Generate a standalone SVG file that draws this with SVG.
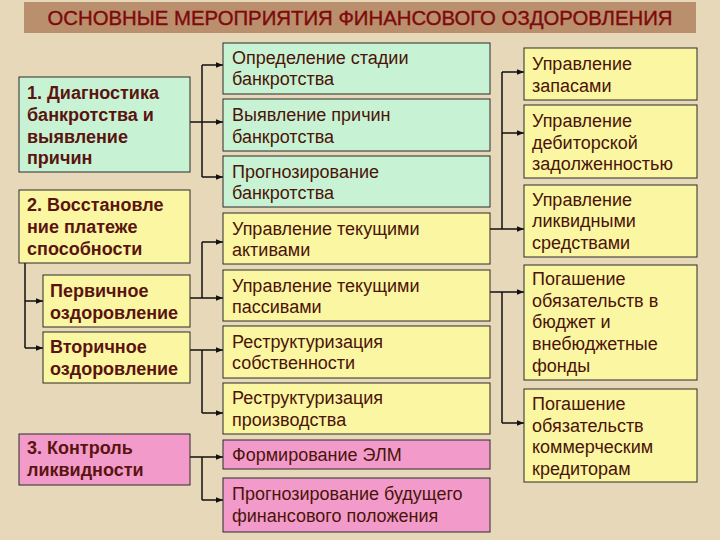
<svg xmlns="http://www.w3.org/2000/svg" width="720" height="540" viewBox="0 0 720 540">
<style>
.g{fill:#C8F2D4;stroke:#2a2a2a;stroke-width:1}
.y{fill:#FBF6A2;stroke:#2a2a2a;stroke-width:1}
.p{fill:#F29BCB;stroke:#2a2a2a;stroke-width:1}
.tb{font-family:"Liberation Sans",Arial,sans-serif;font-size:18px;font-weight:bold;fill:#5A1410}
.t{font-family:"Liberation Sans",Arial,sans-serif;font-size:18px;fill:#4A1408}
.c{fill:none;stroke:#111;stroke-width:1.5}
.a{fill:none;stroke:#111;stroke-width:1.5;marker-end:url(#ah)}
</style>
<defs>
<marker id="ah" viewBox="0 0 10 10" refX="10" refY="5" markerWidth="7" markerHeight="7" markerUnits="userSpaceOnUse" orient="auto">
<path d="M0,1 L10,5 L0,9 z" fill="#111"/>
</marker>
</defs>
<rect width="720" height="540" fill="#E7D8B9"/>
<g id="title">
<rect x="24" y="2" width="672" height="31" fill="#BA8F6E"/>
<text x="360" y="25" text-anchor="middle" font-family="'Liberation Sans',Arial,sans-serif" font-size="21" fill="#7E0A0A" stroke="#7E0A0A" stroke-width="0.4" textLength="625" lengthAdjust="spacingAndGlyphs">ОСНОВНЫЕ МЕРОПРИЯТИЯ ФИНАНСОВОГО ОЗДОРОВЛЕНИЯ</text>
</g>
<g id="connectors">
<polyline class="c" points="190,122 202,122"/>
<polyline class="c" points="202,65 202,177"/>
<polyline class="a" points="202,65 223,65"/>
<polyline class="a" points="202,122 223,122"/>
<polyline class="a" points="202,177 223,177"/>
<polyline class="c" points="25,263 25,348"/>
<polyline class="a" points="25,301 43,301"/>
<polyline class="a" points="25,348 43,348"/>
<polyline class="c" points="202,242 202,298"/>
<polyline class="a" points="202,242 223,242"/>
<polyline class="a" points="190,298 223,298"/>
<polyline class="a" points="190,350 223,350"/>
<polyline class="c" points="202,350 202,413"/>
<polyline class="a" points="202,413 223,413"/>
<polyline class="a" points="190,457 223,457"/>
<polyline class="c" points="202,457 202,500"/>
<polyline class="a" points="202,500 223,500"/>
<polyline class="a" points="490,229 524,229"/>
<polyline class="c" points="502,72 502,229"/>
<polyline class="a" points="502,72 524,72"/>
<polyline class="a" points="502,133 524,133"/>
<polyline class="a" points="490,292 524,292"/>
<polyline class="c" points="502,292 502,423"/>
<polyline class="a" points="502,423 524,423"/>
</g>
<g id="n1"><rect class="g" x="19" y="77" width="171" height="95"/>
<text class="tb"><tspan x="27" y="99">1. Диагностика</tspan><tspan x="27" y="121">банкротства и</tspan><tspan x="27" y="143">выявление</tspan><tspan x="27" y="164">причин</tspan></text></g>
<g id="n2"><rect class="y" x="19" y="190" width="171" height="73"/>
<text class="tb"><tspan x="27" y="211">2. Восстановле</tspan><tspan x="27" y="233">ние платеже</tspan><tspan x="27" y="255">способности</tspan></text></g>
<g id="n2a"><rect class="y" x="43" y="275" width="147" height="52"/>
<text class="tb"><tspan x="50" y="297">Первичное</tspan><tspan x="50" y="319">оздоровление</tspan></text></g>
<g id="n2b"><rect class="y" x="43" y="332" width="147" height="51"/>
<text class="tb"><tspan x="50" y="353">Вторичное</tspan><tspan x="50" y="375">оздоровление</tspan></text></g>
<g id="n3"><rect class="p" x="19" y="434" width="171" height="51"/>
<text class="tb"><tspan x="27" y="454">3. Контроль</tspan><tspan x="27" y="476">ликвидности</tspan></text></g>
<g id="mA"><rect class="g" x="223" y="43" width="267" height="51"/>
<text class="t"><tspan x="232" y="64">Определение стадии</tspan><tspan x="232" y="85">банкротства</tspan></text></g>
<g id="mB"><rect class="g" x="223" y="99" width="267" height="52"/>
<text class="t"><tspan x="232" y="121">Выявление причин</tspan><tspan x="232" y="143">банкротства</tspan></text></g>
<g id="mC"><rect class="g" x="223" y="156" width="267" height="51"/>
<text class="t"><tspan x="232" y="178">Прогнозирование</tspan><tspan x="232" y="199">банкротства</tspan></text></g>
<g id="mD"><rect class="y" x="223" y="213" width="267" height="51"/>
<text class="t"><tspan x="232" y="235">Управление текущими</tspan><tspan x="232" y="256">активами</tspan></text></g>
<g id="mE"><rect class="y" x="223" y="270" width="267" height="51"/>
<text class="t"><tspan x="232" y="292">Управление текущими</tspan><tspan x="232" y="313">пассивами</tspan></text></g>
<g id="mF"><rect class="y" x="223" y="326" width="267" height="52"/>
<text class="t"><tspan x="232" y="348">Реструктуризация</tspan><tspan x="232" y="369">собственности</tspan></text></g>
<g id="mG"><rect class="y" x="223" y="383" width="267" height="51"/>
<text class="t"><tspan x="232" y="404">Реструктуризация</tspan><tspan x="232" y="426">производства</tspan></text></g>
<g id="mH"><rect class="p" x="223" y="440" width="267" height="29"/>
<text class="t"><tspan x="232" y="461">Формирование ЭЛМ</tspan></text></g>
<g id="mI"><rect class="p" x="223" y="478" width="267" height="54"/>
<text class="t"><tspan x="232" y="500">Прогнозирование будущего</tspan><tspan x="232" y="522">финансового положения</tspan></text></g>
<g id="r1"><rect class="y" x="524" y="48" width="173" height="52"/>
<text class="t"><tspan x="532" y="70">Управление</tspan><tspan x="532" y="92">запасами</tspan></text></g>
<g id="r2"><rect class="y" x="524" y="105" width="173" height="73"/>
<text class="t"><tspan x="532" y="127">Управление</tspan><tspan x="532" y="149">дебиторской</tspan><tspan x="532" y="170">задолженностью</tspan></text></g>
<g id="r3"><rect class="y" x="524" y="185" width="173" height="72"/>
<text class="t"><tspan x="532" y="206">Управление</tspan><tspan x="532" y="227">ликвидными</tspan><tspan x="532" y="249">средствами</tspan></text></g>
<g id="r4"><rect class="y" x="524" y="265" width="173" height="115"/>
<text class="t"><tspan x="532" y="285">Погашение</tspan><tspan x="532" y="307">обязательств в</tspan><tspan x="532" y="328">бюджет и</tspan><tspan x="532" y="350">внебюджетные</tspan><tspan x="532" y="372">фонды</tspan></text></g>
<g id="r5"><rect class="y" x="524" y="389" width="173" height="93"/>
<text class="t"><tspan x="532" y="410">Погашение</tspan><tspan x="532" y="432">обязательств</tspan><tspan x="532" y="453">коммерческим</tspan><tspan x="532" y="475">кредиторам</tspan></text></g>
</svg>
